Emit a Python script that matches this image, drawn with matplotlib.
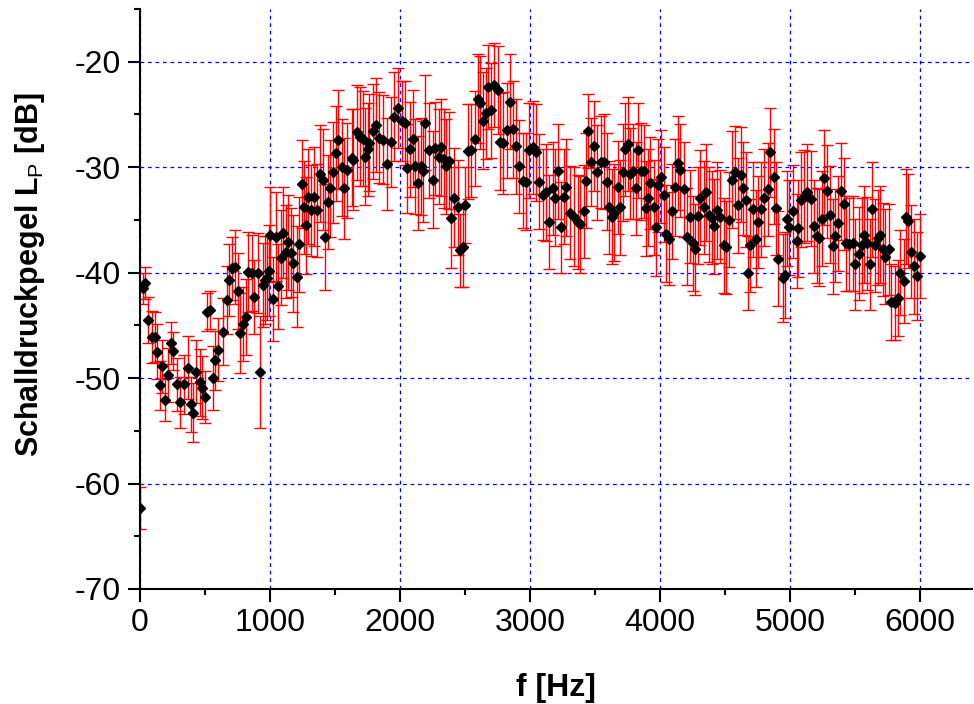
import matplotlib
matplotlib.use("Agg")
import matplotlib.pyplot as plt
from matplotlib.ticker import MultipleLocator

plt.rcParams['font.family'] = ['Liberation Sans', 'DejaVu Sans']
plt.rcParams['mathtext.fontset'] = 'custom'
plt.rcParams['mathtext.rm'] = 'Liberation Sans'
plt.rcParams['axes.unicode_minus'] = False

# ---- data (frequency [Hz], level [dB], error [dB]) ----
freq_a = [0, 20, 40, 62, 93, 115, 130, 155, 170, 193,
          215, 240, 255, 285, 308, 340, 370, 393, 410, 432,
          463, 478, 500, 517, 540, 563, 578, 600, 640, 670,
          686, 710, 732, 755, 771, 794, 817, 833, 864, 879,
          910, 925, 948, 964, 979, 996]
level_a = [-62.3, -41.5, -41.0, -44.5, -46.1, -46.1, -47.5, -50.7, -48.9, -52.1,
           -49.7, -46.7, -47.4, -50.6, -52.3, -50.6, -49.0, -52.5, -53.3, -49.4,
           -50.4, -50.9, -51.8, -43.7, -43.5, -50.0, -48.3, -47.3, -45.6, -42.6,
           -40.7, -39.6, -39.5, -41.7, -45.7, -44.9, -44.2, -39.9, -40.0, -42.3,
           -40.0, -49.4, -41.2, -40.7, -40.5, -39.8]
err_a = [2.0, 1.5, 1.5, 2.2, 2.5, 2.4, 2.6, 2.3, 2.5, 2.0,
         2.6, 2.0, 1.8, 2.5, 2.4, 2.8, 3.0, 2.6, 2.8, 3.0,
         3.2, 3.0, 2.5, 1.8, 1.8, 3.0, 2.8, 3.0, 3.2, 3.2,
         3.4, 3.0, 3.5, 3.6, 3.8, 3.5, 3.6, 3.8, 3.6, 3.5,
         3.8, 5.3, 4.0, 4.2, 4.0, 4.3]

freq_b = [1002, 1026, 1045, 1064, 1087, 1102, 1126, 1141, 1160, 1180,
          1210, 1226, 1249, 1264, 1280, 1295, 1318, 1341, 1364, 1388,
          1411, 1426, 1449, 1465, 1488, 1511, 1526, 1557, 1573, 1596,
          1627, 1642, 1673, 1696, 1712, 1727, 1750, 1765, 1789, 1812,
          1835, 1866, 1897, 1928, 1951, 1982]
level_b = [-36.4, -42.5, -36.6, -41.3, -38.6, -36.2, -38.0, -37.1, -38.1, -39.1,
           -40.4, -37.3, -31.6, -33.8, -35.5, -32.8, -34.1, -32.8, -34.1, -30.6,
           -31.2, -36.6, -33.3, -32.0, -30.5, -28.7, -27.4, -30.0, -32.0, -30.3,
           -29.1, -29.3, -26.7, -27.1, -27.3, -29.0, -28.3, -27.7, -26.6, -26.0,
           -27.2, -27.4, -29.7, -27.6, -25.2, -24.4]
err_b = [4.5, 4.0, 4.2, 4.0, 4.5, 4.3, 4.4, 4.5, 4.2, 4.6,
         4.8, 4.5, 4.2, 4.4, 4.6, 4.5, 4.3, 4.7, 4.4, 4.6,
         4.8, 5.0, 4.5, 4.6, 4.8, 4.5, 4.7, 4.6, 4.8, 4.5,
         4.6, 4.8, 4.5, 4.7, 4.5, 4.6, 4.4, 4.6, 4.5, 4.5,
         4.3, 4.2, 4.4, 4.3, 4.2, 3.8]

freq_c = [2012, 2036, 2051, 2074, 2097, 2112, 2136, 2159, 2174, 2190,
          2220, 2251, 2267, 2298, 2313, 2336, 2352, 2375, 2390, 2413,
          2444, 2459, 2483, 2498, 2521, 2544, 2575, 2598, 2614, 2637,
          2660, 2675, 2699, 2722, 2752, 2768, 2791, 2822, 2845, 2868,
          2891, 2914, 2945, 2968, 2991]
level_c = [-25.6, -25.8, -30.1, -28.3, -27.3, -29.9, -31.5, -29.9, -30.4, -25.8,
           -28.4, -31.2, -28.2, -29.0, -28.1, -29.2, -29.9, -29.4, -34.8, -32.9,
           -33.8, -37.9, -37.6, -33.6, -28.5, -28.4, -27.3, -23.5, -23.9, -25.6,
           -24.9, -22.4, -24.6, -22.2, -22.7, -27.6, -27.7, -26.5, -23.8, -26.4,
           -28.0, -29.9, -31.3, -31.4, -28.4]
err_c = [3.8, 4.0, 4.2, 4.5, 4.6, 4.5, 4.5, 4.6, 4.8, 4.5,
         4.5, 4.6, 4.4, 4.5, 4.6, 4.7, 4.5, 4.6, 4.8, 4.7,
         4.5, 3.5, 3.8, 3.6, 4.5, 4.4, 4.5, 4.2, 4.4, 4.6,
         4.3, 4.0, 4.5, 4.0, 4.2, 4.6, 4.8, 4.5, 4.5, 4.6,
         4.5, 4.4, 4.5, 4.6, 4.5]

freq_d = [3022, 3045, 3069, 3100, 3123, 3146, 3177, 3192, 3215, 3238,
          3262, 3277, 3308, 3338, 3369, 3385, 3415, 3431, 3446, 3469,
          3492, 3516, 3547, 3570, 3593, 3608, 3631, 3647, 3678, 3693,
          3716, 3732, 3755, 3770, 3793, 3816, 3832, 3855, 3878, 3893,
          3909, 3924, 3955, 3971, 3986]
level_d = [-28.1, -28.6, -31.4, -32.6, -32.4, -35.2, -32.0, -32.9, -30.4, -35.7,
           -32.8, -31.9, -34.3, -34.7, -35.2, -35.4, -34.2, -31.3, -26.6, -29.5,
           -28.0, -30.5, -29.5, -29.5, -31.4, -33.8, -34.7, -34.3, -31.9, -33.8,
           -30.5, -28.3, -27.8, -30.6, -30.4, -32.0, -28.4, -30.4, -30.4, -33.9,
           -32.9, -31.5, -33.8, -35.7, -31.7]
err_d = [4.4, 4.6, 4.5, 4.3, 4.6, 4.5, 4.4, 4.6, 4.5, 4.3,
         4.5, 4.6, 4.4, 4.7, 4.5, 4.6, 4.4, 4.5, 3.5, 4.2,
         4.3, 4.5, 4.4, 4.5, 4.6, 4.4, 4.5, 4.6, 4.4, 4.5,
         4.6, 4.4, 4.5, 4.3, 4.5, 4.4, 4.5, 4.6, 4.4, 4.5,
         4.6, 4.4, 4.5, 4.6, 4.4]

freq_e = [4009, 4032, 4048, 4071, 4095, 4118, 4140, 4156, 4187, 4210,
          4233, 4256, 4271, 4294, 4310, 4341, 4356, 4379, 4402, 4418,
          4441, 4464, 4495, 4510, 4533, 4556, 4580, 4603, 4620, 4641,
          4664, 4680, 4695, 4718, 4741, 4757, 4780, 4803, 4834, 4849,
          4880, 4895, 4911, 4949, 4965, 4980]
level_e = [-30.9, -32.6, -36.3, -36.8, -34.2, -31.9, -29.6, -30.3, -32.1, -36.6,
           -34.7, -37.2, -37.8, -34.6, -32.9, -33.8, -32.4, -34.5, -34.8, -35.6,
           -34.1, -34.7, -37.4, -37.6, -35.0, -31.2, -30.5, -33.6, -30.7, -32.0,
           -33.1, -40.0, -37.4, -34.0, -36.8, -35.2, -34.0, -32.9, -32.1, -28.6,
           -30.9, -33.9, -38.7, -40.5, -40.2, -34.9]
err_e = [4.4, 4.5, 4.6, 4.4, 4.5, 4.6, 4.5, 4.4, 4.5, 4.6,
         4.4, 4.5, 4.3, 4.6, 4.5, 4.4, 4.6, 4.5, 4.4, 4.5,
         4.6, 4.4, 4.5, 4.4, 4.5, 4.6, 4.4, 4.5, 4.5, 4.4,
         4.5, 3.5, 4.4, 4.5, 4.6, 4.4, 4.5, 4.6, 4.4, 4.2,
         4.5, 4.4, 4.5, 4.2, 4.1, 4.5]

freq_f = [4996, 5026, 5050, 5065, 5088, 5111, 5127, 5158, 5181, 5204,
          5220, 5243, 5258, 5281, 5304, 5327, 5343, 5366, 5389, 5412,
          5428, 5451, 5482, 5497, 5528, 5551, 5567, 5590, 5613, 5630,
          5651, 5674, 5690, 5713, 5728, 5759, 5775, 5806, 5829, 5844,
          5875, 5890, 5906, 5929, 5952, 5975, 5998]
level_f = [-35.7, -34.2, -37.0, -35.8, -33.1, -32.8, -32.4, -33.0, -35.6, -36.5,
           -36.7, -34.9, -31.0, -32.3, -34.5, -37.5, -36.5, -35.3, -32.3, -33.5,
           -37.2, -37.3, -37.2, -39.2, -38.2, -37.4, -36.4, -37.2, -39.2, -34.0,
           -37.4, -36.7, -36.4, -37.8, -38.5, -37.8, -42.8, -42.9, -42.4, -40.0,
           -40.8, -34.7, -35.1, -38.0, -39.4, -40.3, -38.4]
err_f = [4.5, 4.4, 4.5, 4.6, 4.5, 4.4, 4.6, 4.5, 4.4, 4.5,
         4.6, 4.5, 4.5, 4.4, 4.6, 4.5, 4.4, 4.5, 4.6, 4.4,
         4.5, 4.4, 4.5, 4.3, 4.4, 4.5, 4.6, 4.4, 4.3, 4.5,
         4.4, 4.5, 4.6, 4.4, 4.5, 4.3, 3.6, 3.5, 3.6, 4.0,
         4.0, 4.5, 4.5, 4.4, 4.5, 4.2, 4.0]

x_ticks = [0, 1000, 2000, 3000, 4000, 5000, 6000]
y_ticks = [-70, -60, -50, -40, -30, -20]

freq = freq_a + freq_b + freq_c + freq_d + freq_e + freq_f
level = level_a + level_b + level_c + level_d + level_e + level_f
err = err_a + err_b + err_c + err_d + err_e + err_f
n = min(len(freq), len(level), len(err))
freq, level, err = freq[:n], level[:n], err[:n]

fig = plt.figure(figsize=(9.74, 7.04), dpi=100)
ax = fig.add_axes([140 / 974, 115 / 704, 832 / 974, 580 / 704])

ax.errorbar(freq, level, yerr=err, fmt='none', ecolor='#ff0000',
            elinewidth=1.0, capsize=4.3, capthick=1.0, zorder=3)
ax.plot(freq, level, linestyle='none', marker='D', markersize=4.6,
        color='black', zorder=4)

ax.set_xlim(0, 6400)
ax.set_ylim(-70, -15)
ax.set_xticks(x_ticks)
ax.set_yticks(y_ticks)
ax.xaxis.set_minor_locator(MultipleLocator(500))
ax.yaxis.set_minor_locator(MultipleLocator(5))

ax.grid(which='major', color='#0000ff', linestyle=(0, (3, 3)), linewidth=0.9, zorder=1)
ax.set_axisbelow(True)

for s in ['top', 'right']:
    ax.spines[s].set_visible(False)
for s in ['left', 'bottom']:
    ax.spines[s].set_linewidth(1.5)
    ax.spines[s].set_zorder(5)

ax.tick_params(which='major', direction='out', length=9, width=1.5,
               labelsize=23, pad=5, colors='black')
ax.tick_params(which='minor', direction='out', length=4.5, width=1.5)

fig.text(556 / 974, 1 - 688 / 704, 'f [Hz]', ha='center', va='center',
         fontsize=23, fontweight='bold')
fig.text(30 / 974, 1 - 275 / 704, r'Schalldruckpegel L$_\mathrm{P}$ [dB]',
         ha='center', va='center', rotation=90, fontsize=22, fontweight='bold')

fig.savefig('out.png', dpi=100)
